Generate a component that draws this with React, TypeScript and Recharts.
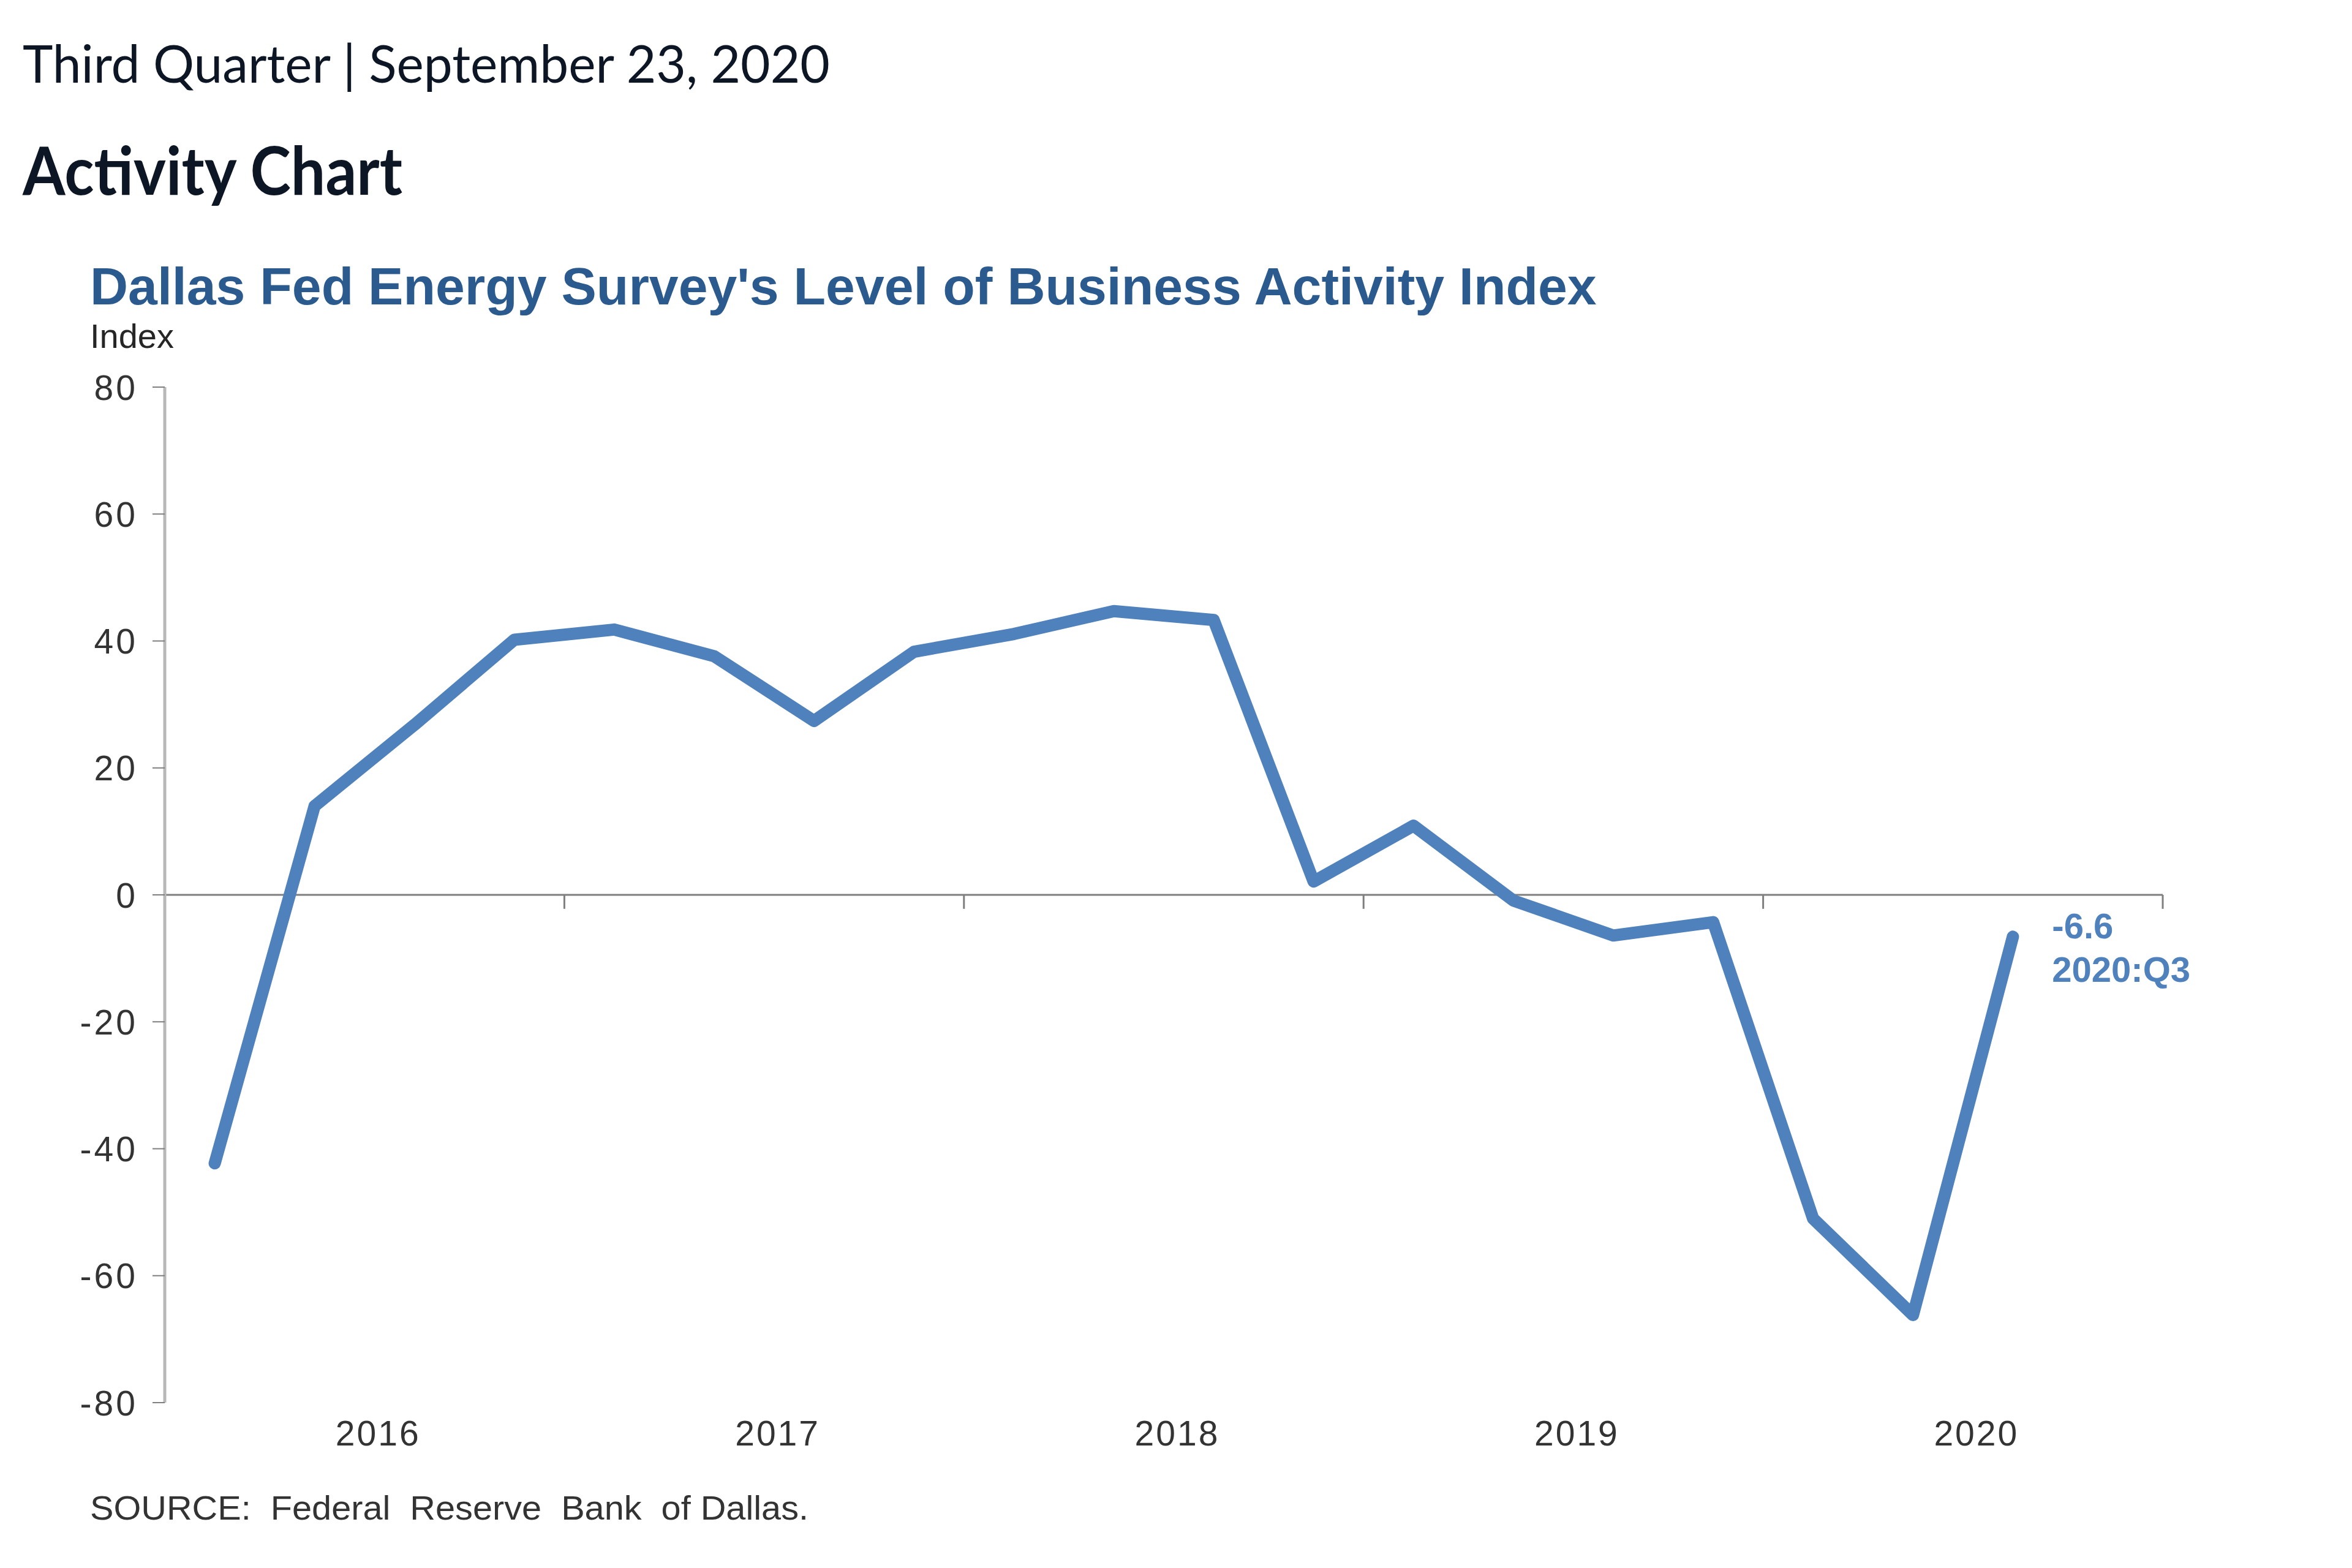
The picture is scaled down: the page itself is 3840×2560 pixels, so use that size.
import React from 'react';
import { LineChart, Line, XAxis, YAxis, ReferenceLine } from 'recharts';

// quarterly readings, 2016:Q1 .. 2020:Q3
const quarters = [
  '2016:Q1', '2016:Q2', '2016:Q3', '2016:Q4',
  '2017:Q1', '2017:Q2', '2017:Q3', '2017:Q4',
  '2018:Q1', '2018:Q2', '2018:Q3', '2018:Q4',
  '2019:Q1', '2019:Q2', '2019:Q3', '2019:Q4',
  '2020:Q1', '2020:Q2', '2020:Q3'
];
const activityIndex = [
  -42.3, 14.0, 26.8, 40.2,
  41.8, 37.6, 27.4, 38.3,
  41.1, 44.7, 43.3, 2.1,
  10.9, -0.9, -6.4, -4.3,
  -51.0, -66.2, -6.6
];
const years = ['2016', '2017', '2018', '2019', '2020'];
const yTicks = [-80, -60, -40, -20, 0, 20, 40, 60, 80];

// each quarter sits in the middle of its slot on a 20-quarter axis
const data = quarters.map((q, i) => ({ q, pos: i + 0.5, value: activityIndex[i] }));
const yearCenters = years.map((_, i) => i * 4 + 2);
const yearEdges = years.map((_, i) => (i + 1) * 4);

const axisFont = '"Liberation Sans", Arial, sans-serif';
const headFont = 'Lato, "Open Sans", sans-serif';
const lineColor = '#4F81BD';

const YTick = (props: any) => {
  const { x, y, payload } = props;
  return (
    <text x={x} y={y} dy="0.36em" textAnchor="end" fontFamily={axisFont} fontSize={57}
      letterSpacing={4} fill="#333333">
      {payload.value}
    </text>
  );
};

const XTick = (props: any) => {
  const { x, y, payload } = props;
  const label = years[yearCenters.indexOf(payload.value)];
  return (
    <text x={x + 22} y={y} dy="0.71em" textAnchor="middle" fontFamily={axisFont} fontSize={57}
      letterSpacing={3} fill="#333333">
      {label}
    </text>
  );
};

const EndLabel = (props: any) => {
  const { x, y, index, value } = props;
  if (index !== data.length - 1) return null;
  return (
    <g fontFamily={axisFont} fontWeight="bold" fontSize={58} fill={lineColor}>
      <text x={x + 64} y={y + 3}>{value}</text>
      <text x={x + 64} y={y + 74}>{quarters[index]}</text>
    </g>
  );
};

export default function App() {
  return (
    <div style={{ position: 'absolute', left: 0, top: 0, width: 3840, height: 2560, background: '#ffffff' }}>
      <LineChart
        width={3840}
        height={2560}
        data={data}
        margin={{ top: 632, right: 309, bottom: 150, left: 69 }}
      >
        <XAxis
          dataKey="pos"
          type="number"
          domain={[0, 20]}
          ticks={yearCenters}
          axisLine={false}
          tickLine={false}
          tickSize={0}
          tickMargin={30}
          height={120}
          tick={<XTick />}
        />
        <YAxis
          type="number"
          domain={[-80, 80]}
          ticks={yTicks}
          width={200}
          axisLine={{ stroke: '#B8B8B8', strokeWidth: 5 }}
          tickLine={{ stroke: '#7F7F7F', strokeWidth: 2 }}
          tickSize={20}
          tickMargin={24}
          tick={<YTick />}
        />
        <ReferenceLine y={0} stroke="#7F7F7F" strokeWidth={3} />
        {yearEdges.map((e) => (
          <ReferenceLine
            key={e}
            segment={[{ x: e, y: 0 }, { x: e, y: -2.2 }]}
            stroke="#7F7F7F"
            strokeWidth={3}
          />
        ))}
        <Line
          dataKey="value"
          type="linear"
          stroke={lineColor}
          strokeWidth={20}
          strokeLinecap="round"
          strokeLinejoin="round"
          dot={false}
          activeDot={false}
          isAnimationActive={false}
          label={<EndLabel />}
        />
      </LineChart>

      <svg width={3840} height={2560} style={{ position: 'absolute', left: 0, top: 0, pointerEvents: 'none' }}>
        <text x={37} y={135} fontFamily={headFont} fontSize={86} fill="#0c1624"
          textLength={1318} lengthAdjust="spacingAndGlyphs">
          Third Quarter | September 23, 2020
        </text>
        <text x={37} y={318} fontFamily={headFont} fontWeight="bold" fontSize={110} fill="#0c1624"
          textLength={620} lengthAdjust="spacingAndGlyphs">
          Activity Chart
        </text>
        <text x={147} y={497} fontFamily={axisFont} fontWeight="bold" fontSize={86} fill="#2B5B8E">
          Dallas Fed Energy Survey's Level of Business Activity Index
        </text>
        <text x={147} y={568} fontFamily={axisFont} fontSize={56} fill="#262626">
          Index
        </text>
        <text x={147} y={2481} fontFamily={axisFont} fontSize={56} fill="#333333" style={{ whiteSpace: 'pre' }}
          textLength={1173} lengthAdjust="spacingAndGlyphs">
          {'SOURCE:  Federal  Reserve  Bank  of Dallas.'}
        </text>
      </svg>
    </div>
  );
}
